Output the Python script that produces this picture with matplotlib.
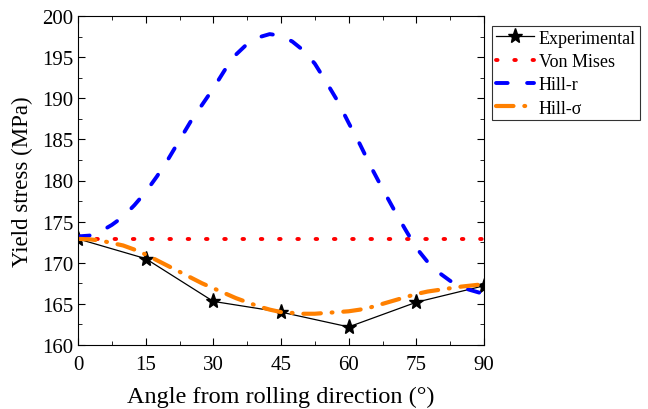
import matplotlib.pyplot as plt
import numpy as np

plt.rcParams['font.family'] = ['Liberation Serif', 'DejaVu Serif']

# experimental points
ang_exp = [0, 15, 30, 45, 60, 75, 90]
exp_val = [172.9, 170.5, 165.3, 164.0, 162.2, 165.2, 167.2]

# model curves, read every 2.5 degrees
ang_mod = [0, 2.5, 5, 7.5, 10, 12.5, 15, 17.5, 20, 22.5, 25, 27.5, 30, 32.5, 35, 37.5,
           40, 42.5, 45, 47.5, 50, 52.5, 55, 57.5, 60, 62.5, 65, 67.5, 70, 72.5,
           75, 77.5, 80, 82.5, 85, 87.5, 90]
vonmises = [172.9] * len(ang_mod)
hill_r = [173.2, 173.3, 173.8, 174.6, 175.6, 177.0, 178.6, 180.5, 182.6, 184.9,
          187.2, 189.2, 191.2, 193.4, 195.3, 196.6, 197.4, 197.8, 197.6, 196.9,
          195.8, 194.2, 192.0, 189.7, 187.0, 184.4, 181.6, 179.0, 176.5, 174.1,
          171.8, 170.1, 168.8, 167.8, 167.0, 166.6, 166.2]
hill_s = [172.9, 172.85, 172.7, 172.4, 172.1, 171.6, 171.0, 170.3, 169.6, 168.9,
          168.2, 167.5, 166.9, 166.3, 165.7, 165.2, 164.7, 164.3, 164.0, 163.9,
          163.8, 163.8, 163.9, 164.0, 164.1, 164.3, 164.6, 165.0, 165.4, 165.8,
          166.2, 166.5, 166.7, 166.9, 167.1, 167.25, 167.4]

fig = plt.figure(figsize=(6.48, 4.10), dpi=100)
ax = fig.add_axes([78/648, 1-346/410, (484-78)/648, (346-17)/410])

ax.plot(ang_exp, exp_val, color='k', lw=0.9, marker='*', ms=11, label='Experimental')
ax.plot(ang_mod, vonmises, color='red', lw=2.8, linestyle=(0, (0.4, 4.3)),
        dash_capstyle='round', label='Von Mises')
ax.plot(ang_mod, hill_r, color='blue', lw=2.8, linestyle=(0, (3.0, 5.0)),
        dash_capstyle='round', label='Hill-r')
ax.plot(ang_mod, hill_s, color='#ff8000', lw=3, linestyle=(0, (4.2, 2.6, 0.2, 2.6)),
        dash_capstyle='round', label='Hill-σ')

ax.set_xlim(0, 90)
ax.set_ylim(160, 200)
ax.set_xticks(np.arange(0, 91, 15))
ax.set_xticks(np.arange(0, 91, 7.5), minor=True)
ax.set_yticks(np.arange(160, 201, 5))
ax.set_yticks(np.arange(160, 201, 2.5), minor=True)
ax.tick_params(which='both', direction='in', top=True, right=True, labelsize=15)
ax.tick_params(which='major', length=5)
ax.tick_params(which='minor', length=3)
ax.tick_params(axis='x', pad=7)
ax.set_xlabel('Angle from rolling direction (°)', fontsize=17.5, labelpad=9)
ax.set_ylabel('Yield stress (MPa)', fontsize=16.5, labelpad=6)

leg = fig.legend(loc='upper left', bbox_to_anchor=(492/648, 1-27/410), fontsize=13,
                 frameon=True, fancybox=False, edgecolor='k', handlelength=2.1,
                 handletextpad=0.3, borderpad=0.2, borderaxespad=0,
                 labelspacing=0.35, handleheight=0.7)
leg.get_frame().set_linewidth(0.8)

fig.savefig('out.png', dpi=100)
